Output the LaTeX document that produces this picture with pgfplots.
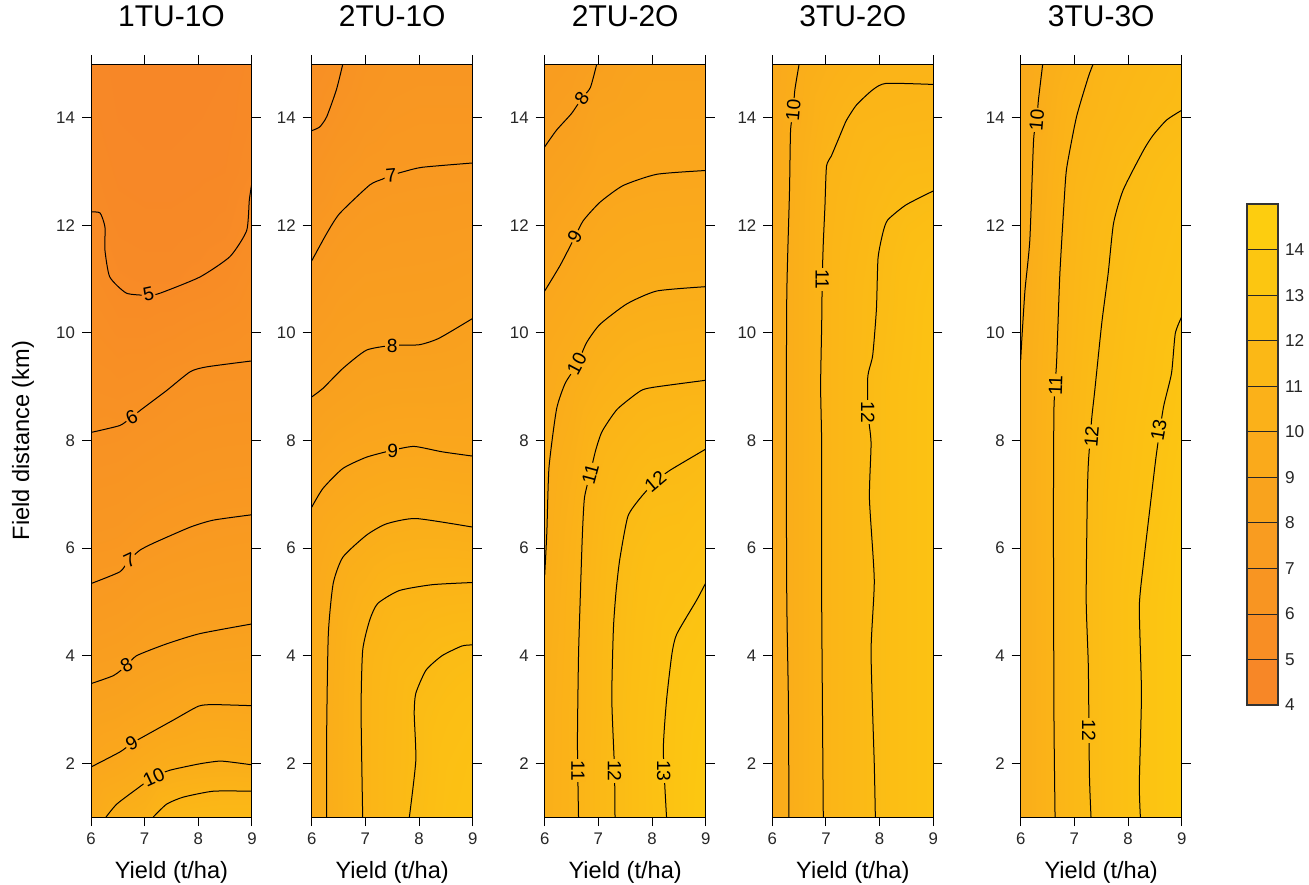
\documentclass[border=0pt]{standalone}
\usepackage{pgfplots}
\usepackage{pgfplotstable}
\pgfplotsset{compat=1.18}
\usepackage{fontspec}
\setmainfont{Liberation Sans}
\definecolor{cO}{RGB}{247,132,40}
\definecolor{cY}{RGB}{253,208,14}
\colorlet{L5}{cY!9.09!cO}
\colorlet{L6}{cY!18.18!cO}
\colorlet{L7}{cY!27.27!cO}
\colorlet{L8}{cY!36.36!cO}
\colorlet{L9}{cY!45.45!cO}
\colorlet{L10}{cY!54.55!cO}
\colorlet{L11}{cY!63.64!cO}
\colorlet{L12}{cY!72.73!cO}
\colorlet{L13}{cY!81.82!cO}

% grids: columns x = 6, 6.5, ..., 9 ; rows y = 1 ... 15
\pgfplotstableread[row sep=\\]{
x y v\\
6 1 9.6\\ 6.5 1 10.3\\ 7 1 10.6\\ 7.5 1 11.4\\ 8 1 11.6\\ 8.5 1 11.7\\ 9 1 11.7\\
6 2 8.95\\ 6.5 2 9.2\\ 7 2 9.57\\ 7.5 2 9.87\\ 8 2 9.99\\ 8.5 2 10.04\\ 9 2 9.97\\
6 3 8.31\\ 6.5 3 8.45\\ 7 3 8.68\\ 7.5 3 8.85\\ 8 3 9.06\\ 8.5 3 9.09\\ 9 3 9.06\\
6 4 7.72\\ 6.5 4 7.83\\ 7 4 8.03\\ 7.5 4 8.17\\ 8 4 8.3\\ 8.5 4 8.35\\ 9 4 8.39\\
6 5 7.18\\ 6.5 5 7.29\\ 7 5 7.51\\ 7.5 5 7.62\\ 8 5 7.7\\ 8.5 5 7.76\\ 9 5 7.8\\
6 6 6.77\\ 6.5 6 6.83\\ 7 6 7.0\\ 7.5 6 7.12\\ 8 6 7.21\\ 8.5 6 7.27\\ 9 6 7.31\\
6 7 6.41\\ 6.5 7 6.47\\ 7 7 6.62\\ 7.5 7 6.72\\ 8 7 6.8\\ 8.5 7 6.85\\ 9 7 6.87\\
6 8 6.05\\ 6.5 8 6.1\\ 7 8 6.24\\ 7.5 8 6.36\\ 8 8 6.46\\ 8.5 8 6.5\\ 9 8 6.52\\
6 9 5.79\\ 6.5 9 5.72\\ 7 9 5.82\\ 7.5 9 6.0\\ 8 9 6.11\\ 8.5 9 6.15\\ 9 9 6.17\\
6 10 5.55\\ 6.5 10 5.34\\ 7 10 5.34\\ 7.5 10 5.45\\ 8 10 5.61\\ 8.5 10 5.7\\ 9 10 5.84\\
6 11 5.3\\ 6.5 11 4.97\\ 7 11 4.9\\ 7.5 11 4.9\\ 8 11 5.02\\ 8.5 11 5.2\\ 9 11 5.54\\
6 12 5.06\\ 6.5 12 4.75\\ 7 12 4.7\\ 7.5 12 4.7\\ 8 12 4.75\\ 8.5 12 4.85\\ 9 12 5.24\\
6 13 4.85\\ 6.5 13 4.6\\ 7 13 4.55\\ 7.5 13 4.55\\ 8 13 4.6\\ 8.5 13 4.65\\ 9 13 4.95\\
6 14 4.7\\ 6.5 14 4.5\\ 7 14 4.45\\ 7.5 14 4.45\\ 8 14 4.5\\ 8.5 14 4.55\\ 9 14 4.8\\
6 15 4.6\\ 6.5 15 4.45\\ 7 15 4.4\\ 7.5 15 4.4\\ 8 15 4.45\\ 8.5 15 4.5\\ 9 15 4.7\\
}\gridA

\pgfplotstableread[row sep=\\]{
x y v\\
6 1 9.58\\ 6.5 1 10.33\\ 7 1 11.07\\ 7.5 1 11.58\\ 8 1 12.2\\ 8.5 1 12.7\\ 9 1 12.9\\
6 2 9.58\\ 6.5 2 10.33\\ 7 2 11.07\\ 7.5 2 11.58\\ 8 2 12.1\\ 8.5 2 12.6\\ 9 2 12.8\\
6 3 9.57\\ 6.5 3 10.32\\ 7 3 11.06\\ 7.5 3 11.56\\ 8 3 12.1\\ 8.5 3 12.4\\ 9 3 12.6\\
6 4 9.55\\ 6.5 4 10.28\\ 7 4 11.03\\ 7.5 4 11.45\\ 8 4 11.7\\ 8.5 4 12.04\\ 9 4 12.17\\
6 5 9.45\\ 6.5 5 10.15\\ 7 5 10.65\\ 7.5 5 11.1\\ 8 5 11.15\\ 8.5 5 11.26\\ 9 5 11.31\\
6 6 9.3\\ 6.5 6 9.85\\ 7 6 10.12\\ 7.5 6 10.36\\ 8 6 10.43\\ 8.5 6 10.43\\ 9 6 10.38\\
6 7 8.9\\ 6.5 7 9.22\\ 7 7 9.47\\ 7.5 7 9.61\\ 8 7 9.66\\ 8.5 7 9.61\\ 9 7 9.54\\
6 8 8.39\\ 6.5 8 8.68\\ 7 8 8.83\\ 7.5 8 8.91\\ 8 8 8.94\\ 8.5 8 8.9\\ 9 8 8.89\\
6 9 7.93\\ 6.5 9 8.14\\ 7 9 8.33\\ 7.5 9 8.4\\ 8 9 8.41\\ 8.5 9 8.43\\ 9 9 8.5\\
6 10 7.53\\ 6.5 10 7.77\\ 7 10 7.89\\ 7.5 10 7.93\\ 8 10 7.93\\ 8.5 10 7.97\\ 9 10 8.1\\
6 11 7.13\\ 6.5 11 7.43\\ 7 11 7.58\\ 7.5 11 7.61\\ 8 11 7.63\\ 8.5 11 7.66\\ 9 11 7.74\\
6 12 6.77\\ 6.5 12 7.06\\ 7 12 7.23\\ 7.5 12 7.3\\ 8 12 7.33\\ 8.5 12 7.35\\ 9 12 7.4\\
6 13 6.31\\ 6.5 13 6.72\\ 7 13 6.9\\ 7.5 13 6.98\\ 8 13 7.02\\ 8.5 13 7.04\\ 9 13 7.05\\
6 14 5.9\\ 6.5 14 6.3\\ 7 14 6.6\\ 7.5 14 6.75\\ 8 14 6.8\\ 8.5 14 6.8\\ 9 14 6.8\\
6 15 5.6\\ 6.5 15 5.95\\ 7 15 6.35\\ 7.5 15 6.55\\ 8 15 6.6\\ 8.5 15 6.6\\ 9 15 6.6\\
}\gridB

\pgfplotstableread[row sep=\\]{
x y v\\
6 1 10.3\\ 6.5 1 10.8\\ 7 1 11.56\\ 7.5 1 12.2\\ 8 1 12.75\\ 8.5 1 13.3\\ 9 1 13.9\\
6 2 10.28\\ 6.5 2 10.8\\ 7 2 11.55\\ 7.5 2 12.2\\ 8 2 12.78\\ 8.5 2 13.3\\ 9 2 13.8\\
6 3 10.25\\ 6.5 3 10.8\\ 7 3 11.5\\ 7.5 3 12.25\\ 8 3 12.73\\ 8.5 3 13.25\\ 9 3 13.6\\
6 4 10.18\\ 6.5 4 10.78\\ 7 4 11.5\\ 7.5 4 12.2\\ 8 4 12.65\\ 8.5 4 13.13\\ 9 4 13.4\\
6 5 10.08\\ 6.5 5 10.75\\ 7 5 11.45\\ 7.5 5 12.15\\ 8 5 12.55\\ 8.5 5 12.82\\ 9 5 13.12\\
6 6 9.98\\ 6.5 6 10.65\\ 7 6 11.35\\ 7.5 6 12.06\\ 8 6 12.4\\ 8.5 6 12.48\\ 9 6 12.74\\
6 7 9.92\\ 6.5 7 10.5\\ 7 7 11.2\\ 7.5 7 11.7\\ 8 7 12.1\\ 8.5 7 12.14\\ 9 7 12.33\\
6 8 9.82\\ 6.5 8 10.3\\ 7 8 10.99\\ 7.5 8 11.3\\ 8 8 11.57\\ 8.5 8 11.64\\ 9 8 11.87\\
6 9 9.55\\ 6.5 9 10.05\\ 7 9 10.52\\ 7.5 9 10.82\\ 8 9 10.98\\ 8.5 9 11.03\\ 9 9 11.07\\
6 10 9.3\\ 6.5 10 9.65\\ 7 10 10.05\\ 7.5 10 10.3\\ 8 10 10.42\\ 8.5 10 10.46\\ 9 10 10.5\\
6 11 8.92\\ 6.5 11 9.25\\ 7 11 9.6\\ 7.5 11 9.79\\ 8 11 9.88\\ 8.5 11 9.92\\ 9 11 9.94\\
6 12 8.55\\ 6.5 12 8.85\\ 7 12 9.17\\ 7.5 12 9.35\\ 8 12 9.43\\ 8.5 12 9.45\\ 9 12 9.47\\
6 13 8.17\\ 6.5 13 8.43\\ 7 13 8.8\\ 7.5 13 8.9\\ 8 13 8.97\\ 8.5 13 8.99\\ 9 13 9.01\\
6 14 7.8\\ 6.5 14 8.02\\ 7 14 8.5\\ 7.5 14 8.6\\ 8 14 8.7\\ 8.5 14 8.7\\ 9 14 8.7\\
6 15 7.5\\ 6.5 15 7.7\\ 7 15 8.05\\ 7.5 15 8.35\\ 8 15 8.5\\ 8.5 15 8.5\\ 9 15 8.5\\
}\gridC

\pgfplotstableread[row sep=\\]{
x y v\\
6 1 9.53\\ 6.5 1 10.32\\ 7 1 11.07\\ 7.5 1 11.62\\ 8 1 12.17\\ 8.5 1 12.6\\ 9 1 13.0\\
6 2 9.53\\ 6.5 2 10.32\\ 7 2 11.07\\ 7.5 2 11.62\\ 8 2 12.17\\ 8.5 2 12.6\\ 9 2 13.0\\
6 3 9.53\\ 6.5 3 10.32\\ 7 3 11.07\\ 7.5 3 11.62\\ 8 3 12.17\\ 8.5 3 12.6\\ 9 3 13.0\\
6 4 9.53\\ 6.5 4 10.32\\ 7 4 11.07\\ 7.5 4 11.62\\ 8 4 12.17\\ 8.5 4 12.6\\ 9 4 13.0\\
6 5 9.53\\ 6.5 5 10.32\\ 7 5 11.07\\ 7.5 5 11.62\\ 8 5 12.17\\ 8.5 5 12.6\\ 9 5 13.0\\
6 6 9.53\\ 6.5 6 10.32\\ 7 6 11.07\\ 7.5 6 11.62\\ 8 6 12.17\\ 8.5 6 12.6\\ 9 6 13.0\\
6 7 9.53\\ 6.5 7 10.32\\ 7 7 11.07\\ 7.5 7 11.62\\ 8 7 12.17\\ 8.5 7 12.6\\ 9 7 13.0\\
6 8 9.53\\ 6.5 8 10.32\\ 7 8 11.07\\ 7.5 8 11.62\\ 8 8 12.17\\ 8.5 8 12.6\\ 9 8 13.0\\
6 9 9.53\\ 6.5 9 10.32\\ 7 9 11.07\\ 7.5 9 11.62\\ 8 9 12.17\\ 8.5 9 12.6\\ 9 9 13.0\\
6 10 9.53\\ 6.5 10 10.32\\ 7 10 11.07\\ 7.5 10 11.6\\ 8 10 12.08\\ 8.5 10 12.5\\ 9 10 12.95\\
6 11 9.53\\ 6.5 11 10.32\\ 7 11 11.07\\ 7.5 11 11.58\\ 8 11 12.0\\ 8.5 11 12.45\\ 9 11 12.8\\
6 12 9.53\\ 6.5 12 10.3\\ 7 12 11.05\\ 7.5 12 11.45\\ 8 12 11.9\\ 8.5 12 12.25\\ 9 12 12.4\\
6 13 9.5\\ 6.5 13 10.25\\ 7 13 10.97\\ 7.5 13 11.3\\ 8 13 11.6\\ 8.5 13 11.85\\ 9 13 11.9\\
6 14 9.45\\ 6.5 14 10.1\\ 7 14 10.75\\ 7.5 14 11.1\\ 8 14 11.2\\ 8.5 14 11.25\\ 9 14 11.3\\
6 15 9.35\\ 6.5 15 10.0\\ 7 15 10.4\\ 7.5 15 10.7\\ 8 15 10.85\\ 8.5 15 10.9\\ 9 15 10.9\\
}\gridD

\pgfplotstableread[row sep=\\]{
x y v\\
6 1 10.0\\ 6.5 1 10.8\\ 7 1 11.6\\ 7.5 1 12.25\\ 8 1 12.77\\ 8.5 1 13.3\\ 9 1 13.9\\
6 2 10.0\\ 6.5 2 10.8\\ 7 2 11.6\\ 7.5 2 12.25\\ 8 2 12.77\\ 8.5 2 13.3\\ 9 2 13.9\\
6 3 10.0\\ 6.5 3 10.8\\ 7 3 11.6\\ 7.5 3 12.25\\ 8 3 12.77\\ 8.5 3 13.3\\ 9 3 13.9\\
6 4 10.0\\ 6.5 4 10.8\\ 7 4 11.6\\ 7.5 4 12.25\\ 8 4 12.77\\ 8.5 4 13.3\\ 9 4 13.9\\
6 5 10.0\\ 6.5 5 10.8\\ 7 5 11.6\\ 7.5 5 12.25\\ 8 5 12.77\\ 8.5 5 13.3\\ 9 5 13.85\\
6 6 10.0\\ 6.5 6 10.8\\ 7 6 11.6\\ 7.5 6 12.25\\ 8 6 12.7\\ 8.5 6 13.18\\ 9 6 13.75\\
6 7 10.0\\ 6.5 7 10.8\\ 7 7 11.6\\ 7.5 7 12.23\\ 8 7 12.62\\ 8.5 7 13.02\\ 9 7 13.55\\
6 8 10.0\\ 6.5 8 10.8\\ 7 8 11.55\\ 7.5 8 12.15\\ 8 8 12.54\\ 8.5 8 12.94\\ 9 8 13.42\\
6 9 10.0\\ 6.5 9 10.78\\ 7 9 11.47\\ 7.5 9 12.09\\ 8 9 12.45\\ 8.5 9 12.8\\ 9 9 13.28\\
6 10 9.97\\ 6.5 10 10.7\\ 7 10 11.38\\ 7.5 10 11.98\\ 8 10 12.37\\ 8.5 10 12.72\\ 9 10 13.05\\
6 11 9.85\\ 6.5 11 10.65\\ 7 11 11.31\\ 7.5 11 11.87\\ 8 11 12.29\\ 8.5 11 12.58\\ 9 11 12.85\\
6 12 9.75\\ 6.5 12 10.54\\ 7 12 11.24\\ 7.5 12 11.76\\ 8 12 12.15\\ 8.5 12 12.45\\ 9 12 12.7\\
6 13 9.65\\ 6.5 13 10.44\\ 7 13 11.12\\ 7.5 13 11.52\\ 8 13 11.95\\ 8.5 13 12.25\\ 9 13 12.5\\
6 14 9.5\\ 6.5 14 10.27\\ 7 14 10.95\\ 7.5 14 11.27\\ 8 14 11.57\\ 8.5 14 11.87\\ 9 14 12.05\\
6 15 9.35\\ 6.5 15 10.1\\ 7 15 10.63\\ 7.5 15 11.1\\ 8 15 11.34\\ 8.5 15 11.6\\ 9 15 11.85\\
}\gridE

\pgfplotstableread[row sep=\\]{
x y\\
0 4\\ 1 4\\ 0 5\\ 1 5\\ 0 6\\ 1 6\\ 0 7\\ 1 7\\ 0 8\\ 1 8\\ 0 9\\ 1 9\\
0 10\\ 1 10\\ 0 11\\ 1 11\\ 0 12\\ 1 12\\ 0 13\\ 1 13\\ 0 14\\ 1 14\\ 0 15\\ 1 15\\
}\cbar

\pgfplotsset{
  yo/.style={colormap={yo}{rgb255=(247,132,40) rgb255=(253,208,14)},
    point meta min=4, point meta max=15},
  panel/.style={
    yo,
    width=80.5pt, height=376.5pt, scale only axis,
    anchor=south west,
    xmin=6, xmax=9, ymin=1, ymax=15,
    xtick={6,7,8,9}, ytick={2,4,...,14},
    tick align=outside, tick pos=both,
    major tick length=4.5pt,
    tick style={black, line width=0.5pt},
    axis line style={black, line width=0.5pt},
    ticklabel style={font=\fontsize{8.4}{9}\selectfont, text=black!85},
    /pgf/number format/assume math mode=true,
    title style={font=\fontsize{15}{17}\selectfont, at={(axis description cs:0.5,1)}, anchor=base, yshift=13pt},
    xlabel={Yield (t/ha)},
    xlabel style={font=\fontsize{11.8}{13}\selectfont, at={(axis description cs:0.5,0)}, anchor=base, yshift=-30.5pt},
    axis on top,
  },
  grd/.style={surf, shader=interp, mesh/cols=7, point meta=explicit},
  cl/.style={black, line width=0.5pt, mark=none, smooth, tension=0.35},
}
\tikzset{lab/.style={font=\fontsize{9.6}{10}\selectfont, inner sep=0.7pt}}

\begin{document}
\begin{tikzpicture}
\path[use as bounding box] (0,0) rectangle (654.5pt,-442pt);

% ---------- panel 1 ----------
\begin{axis}[panel, at={(45.5pt,-408.5pt)}, title={1TU-1O},
  ylabel={Field distance (km)},
  ylabel style={font=\fontsize{11.8}{13}\selectfont, at={(axis description cs:-0.422,0.5)}, anchor=center}]
\addplot[grd] table[x=x,y=y,meta=v] {\gridA};
\addplot[cl] coordinates {(6,12.25)(6.17,12.23)(6.26,11.97)(6.26,11.54)(6.35,11.04)(6.66,10.74)(7.07,10.7)(7.29,10.74)(8.03,11.04)(8.59,11.42)(8.9,11.9)(8.95,12.47)(9,12.8)};
\addplot[cl] coordinates {(6,8.15)(6.54,8.28)(6.76,8.44)(6.97,8.6)(7.41,8.93)(7.85,9.28)(8.16,9.37)(9,9.48)};
\addplot[cl] coordinates {(6,5.34)(6.54,5.56)(6.7,5.77)(6.91,5.96)(7.16,6.09)(7.85,6.39)(8.28,6.52)(9,6.62)};
\addplot[cl] coordinates {(6,3.48)(6.42,3.63)(6.67,3.82)(6.85,4.0)(7.41,4.22)(8.03,4.41)(9,4.59)};
\addplot[cl] coordinates {(6,1.93)(6.54,2.21)(6.76,2.37)(6.97,2.49)(7.53,2.80)(8.0,3.06)(8.28,3.09)(9,3.07)};
\addplot[cl] coordinates {(6.28,1)(6.48,1.24)(6.85,1.52)(7.16,1.74)(7.47,1.87)(8.03,1.99)(8.4,2.04)(8.7,2.01)(9,1.97)};
\addplot[cl] coordinates {(7.16,1)(7.41,1.24)(7.72,1.37)(8.28,1.48)(9,1.48)};
\node[lab, fill=L5, rotate=12] at (axis cs:7.07,10.72) {5};
\node[lab, fill=L6, rotate=25] at (axis cs:6.76,8.44) {6};
\node[lab, fill=L7, rotate=25] at (axis cs:6.72,5.78) {7};
\node[lab, fill=L8, rotate=28] at (axis cs:6.66,3.82) {8};
\node[lab, fill=L9, rotate=28] at (axis cs:6.76,2.37) {9};
\node[lab, fill=L10, rotate=25] at (axis cs:7.17,1.74) {10};
\end{axis}

% ---------- panel 2 ----------
\begin{axis}[panel, at={(155.85pt,-408.5pt)}, title={2TU-1O}]
\addplot[grd] table[x=x,y=y,meta=v] {\gridB};
\addplot[cl] coordinates {(6,13.76)(6.15,13.83)(6.28,14.02)(6.46,14.52)(6.58,15)};
\addplot[cl] coordinates {(6,11.34)(6.28,11.85)(6.52,12.22)(7.08,12.75)(7.32,12.86)(7.48,12.93)(7.72,13.0)(8.06,13.08)(9,13.16)};
\addplot[cl] coordinates {(6,8.81)(6.21,8.97)(6.58,9.34)(7.02,9.68)(7.51,9.77)(8,9.78)(8.37,9.9)(9,10.27)};
\addplot[cl] coordinates {(6,6.76)(6.21,7.11)(6.58,7.48)(7.02,7.69)(7.51,7.82)(7.91,7.89)(8.43,7.79)(9,7.71)};
\addplot[cl] coordinates {(6.28,1)(6.28,2.67)(6.31,4.41)(6.4,5.34)(6.58,5.83)(7.02,6.24)(7.39,6.45)(7.94,6.55)(9,6.39)};
\addplot[cl] coordinates {(6.95,1)(6.92,2.98)(6.95,4.1)(7.08,4.66)(7.23,4.97)(7.63,5.21)(8.25,5.32)(9,5.36)};
\addplot[cl] coordinates {(7.82,1)(7.94,2.05)(7.91,2.92)(7.94,3.3)(8.13,3.73)(8.43,4.0)(8.8,4.18)(9,4.2)};
\node[lab, fill=L7, rotate=5] at (axis cs:7.48,12.93) {7};
\node[lab, fill=L8] at (axis cs:7.5,9.76) {8};
\node[lab, fill=L9] at (axis cs:7.51,7.81) {9};
\end{axis}

% ---------- panel 3 ----------
\begin{axis}[panel, at={(272.35pt,-408.5pt)}, title={2TU-2O}]
\addplot[grd] table[x=x,y=y,meta=v] {\gridC};
\addplot[cl] coordinates {(6,13.46)(6.22,13.77)(6.5,14.08)(6.69,14.36)(6.85,14.56)(6.97,15)};
\addplot[cl] coordinates {(6,10.78)(6.29,11.26)(6.56,11.78)(6.72,12.09)(7.03,12.43)(7.46,12.74)(8.09,12.95)(9,13.02)};
\addplot[cl] coordinates {(6,5.5)(6.04,6.3)(6.08,7.5)(6.22,8.58)(6.38,9.06)(6.6,9.41)(6.78,9.82)(7.03,10.16)(7.53,10.54)(8.09,10.78)(9,10.86)};
\addplot[cl] coordinates {(6.63,1)(6.61,2.4)(6.63,4.0)(6.66,5.0)(6.7,6.2)(6.74,6.93)(6.85,7.4)(6.95,7.82)(7.07,8.17)(7.35,8.58)(7.78,8.92)(8.03,8.99)(9,9.12)};
\addplot[cl] coordinates {(7.31,1)(7.3,1.9)(7.25,3.2)(7.28,4.5)(7.33,5.2)(7.4,5.8)(7.55,6.59)(7.78,6.93)(8.06,7.24)(8.34,7.45)(9,7.84)};
\addplot[cl] coordinates {(8.27,1)(8.21,2.24)(8.27,3.17)(8.37,4.03)(8.46,4.4)(8.83,5.03)(9,5.35)};
\node[lab, fill=L8, rotate=55] at (axis cs:6.69,14.36) {8};
\node[lab, fill=L9, rotate=60] at (axis cs:6.56,11.8) {9};
\node[lab, fill=L10, rotate=62] at (axis cs:6.6,9.43) {10};
\node[lab, fill=L11, rotate=75] at (axis cs:6.85,7.38) {11};
\node[lab, fill=L12, rotate=40] at (axis cs:8.06,7.24) {12};
\node[lab, fill=L11, rotate=-90] at (axis cs:6.62,1.86) {11};
\node[lab, fill=L12, rotate=-90] at (axis cs:7.3,1.86) {12};
\node[lab, fill=L13, rotate=-90] at (axis cs:8.22,1.86) {13};
\end{axis}

% ---------- panel 4 ----------
\begin{axis}[panel, at={(386.15pt,-408.5pt)}, title={3TU-2O}]
\addplot[grd] table[x=x,y=y,meta=v] {\gridD};
\addplot[cl] coordinates {(6.5,15)(6.42,14.52)(6.39,14.14)(6.34,13.76)(6.32,12.62)(6.27,10.72)(6.26,7.87)(6.27,5.02)(6.3,3.12)(6.31,1)};
\addplot[cl] coordinates {(9,14.62)(8.12,14.64)(7.87,14.52)(7.57,14.24)(7.38,13.95)(7.26,13.67)(7.1,13.29)(7.01,13.1)(6.98,12.34)(6.95,11.67)(6.93,11.0)(6.92,10.15)(6.9,9.0)(6.92,7.87)(6.92,5.02)(6.95,1)};
\addplot[cl] coordinates {(9,12.64)(8.49,12.38)(8.15,12.1)(8.06,11.86)(7.97,11.39)(7.94,10.44)(7.87,9.58)(7.78,9.2)(7.78,8.53)(7.84,7.96)(7.81,6.92)(7.9,5.4)(7.84,4.07)(7.9,1.98)(7.92,1)};
\node[lab, fill=L10, rotate=85] at (axis cs:6.39,14.14) {10};
\node[lab, fill=L11, rotate=-90] at (axis cs:6.93,11.0) {11};
\node[lab, fill=L12, rotate=-90] at (axis cs:7.78,8.53) {12};
\end{axis}

% ---------- panel 5 ----------
\begin{axis}[panel, at={(510.35pt,-408.5pt)}, title={3TU-3O}]
\addplot[grd] table[x=x,y=y,meta=v] {\gridE};
\addplot[cl] coordinates {(6.41,15)(6.33,14.33)(6.3,13.96)(6.24,13.59)(6.17,11.73)(6.08,10.8)(6.02,9.87)(6,9.5)};
\addplot[cl] coordinates {(7.35,15)(7.26,14.76)(7.04,14.02)(6.87,13.15)(6.83,12.78)(6.73,11.11)(6.67,9.49)(6.62,8.62)(6.61,6.89)(6.61,6.14)(6.62,2.8)(6.64,1)};
\addplot[cl] coordinates {(9,14.14)(8.72,13.96)(8.47,13.68)(8.29,13.4)(7.91,12.66)(7.73,12.04)(7.63,11.11)(7.51,10.18)(7.38,8.93)(7.32,8.38)(7.26,7.57)(7.24,6.89)(7.22,5.03)(7.26,3.79)(7.28,1.8)(7.31,1)};
\addplot[cl] coordinates {(9,10.3)(8.88,9.99)(8.81,9.25)(8.66,8.62)(8.53,7.76)(8.41,6.76)(8.28,5.65)(8.21,4.9)(8.25,3.29)(8.21,1.62)(8.23,1)};
\node[lab, fill=L10, rotate=85] at (axis cs:6.3,13.96) {10};
\node[lab, fill=L11, rotate=88] at (axis cs:6.65,9.03) {11};
\node[lab, fill=L12, rotate=85] at (axis cs:7.32,8.07) {12};
\node[lab, fill=L13, rotate=80] at (axis cs:8.57,8.19) {13};
\node[lab, fill=L12, rotate=-90] at (axis cs:7.27,2.61) {12};
\end{axis}

% ---------- colour bar ----------
\begin{axis}[yo, at={(623.5pt,-352.5pt)}, anchor=south west,
  width=15.5pt, height=250.5pt, scale only axis,
  xmin=0, xmax=1, ymin=4, ymax=15,
  xtick=\empty, ytick={4,...,14},
  ytick pos=right, yticklabel pos=right, major tick length=0pt,
  axis line style={black!80, line width=0.6pt},
  ticklabel style={font=\fontsize{8.6}{9}\selectfont, text=black!85},
  /pgf/number format/assume math mode=true, axis on top]
\addplot[surf, shader=faceted, faceted color=black!85, mesh/cols=2, point meta=explicit] table[x=x,y=y,meta=y] {\cbar};
\end{axis}
\end{tikzpicture}
\end{document}
